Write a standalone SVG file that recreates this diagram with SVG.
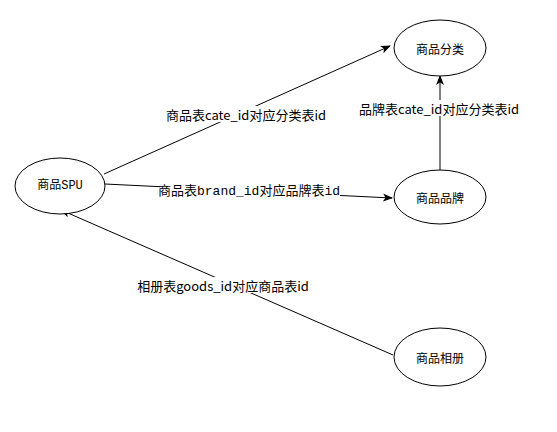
<svg xmlns="http://www.w3.org/2000/svg" width="557" height="432" viewBox="0 0 557 432">
<style>
.node ellipse{fill:#fff;stroke:#000;stroke-width:1}
.nt{font-family:"Noto Sans CJK SC","Liberation Sans",sans-serif;font-size:12px;fill:#000;text-anchor:middle;dominant-baseline:central}
.edge{stroke:#000;stroke-width:1;fill:none;marker-end:url(#arr)}
.lbl{font-family:"Noto Sans CJK SC","Liberation Sans",sans-serif;font-size:13px;fill:#000;text-anchor:middle;dominant-baseline:central}
.bg{fill:#fff}
text.mono{font-family:"Liberation Mono","Noto Sans CJK SC",monospace}
</style>
<defs>
<marker id="arr" viewBox="0 0 10 10" refX="9" refY="5" markerWidth="10" markerHeight="10" markerUnits="userSpaceOnUse" orient="auto">
<path d="M0,1 L10,5 L0,9 L2.5,5 Z" fill="#000"/>
</marker>
</defs>
<rect width="557" height="432" fill="#fff"/>
<g id="connectors">
<line class="edge" x1="104" y1="174" x2="390" y2="46"/>
<line class="edge" x1="440" y1="170" x2="440" y2="76"/>
<line class="edge" x1="105" y1="184" x2="392" y2="198"/>
<line class="edge" x1="393" y1="355" x2="61" y2="210"/>
<rect class="bg" x="164" y="106" width="164" height="16"/>
<text class="lbl" x="246" y="114">商品表cate_id对应分类表id</text>
<rect class="bg" x="357" y="100" width="164" height="16"/>
<text class="lbl" x="439" y="108">品牌表cate_id对应分类表id</text>
<rect class="bg" x="160" y="183" width="180" height="16"/>
<text class="lbl mono" x="249" y="191" font-size="11.7">商品表brand_id对应品牌表id</text>
<rect class="bg" x="136" y="277" width="174" height="16"/>
<text class="lbl" x="223" y="285">相册表goods_id对应商品表id</text>
</g>
<g id="spu" class="node"><ellipse cx="60" cy="186" rx="45" ry="28"/><text class="nt mono" x="60" y="186">商品SPU</text></g>
<g id="category" class="node"><ellipse cx="440" cy="48" rx="46" ry="28"/><text class="nt" x="440" y="48">商品分类</text></g>
<g id="brand" class="node"><ellipse cx="440" cy="197" rx="46" ry="27"/><text class="nt" x="440" y="197">商品品牌</text></g>
<g id="album" class="node"><ellipse cx="440" cy="357" rx="46" ry="29"/><text class="nt" x="440" y="357">商品相册</text></g>
</svg>
